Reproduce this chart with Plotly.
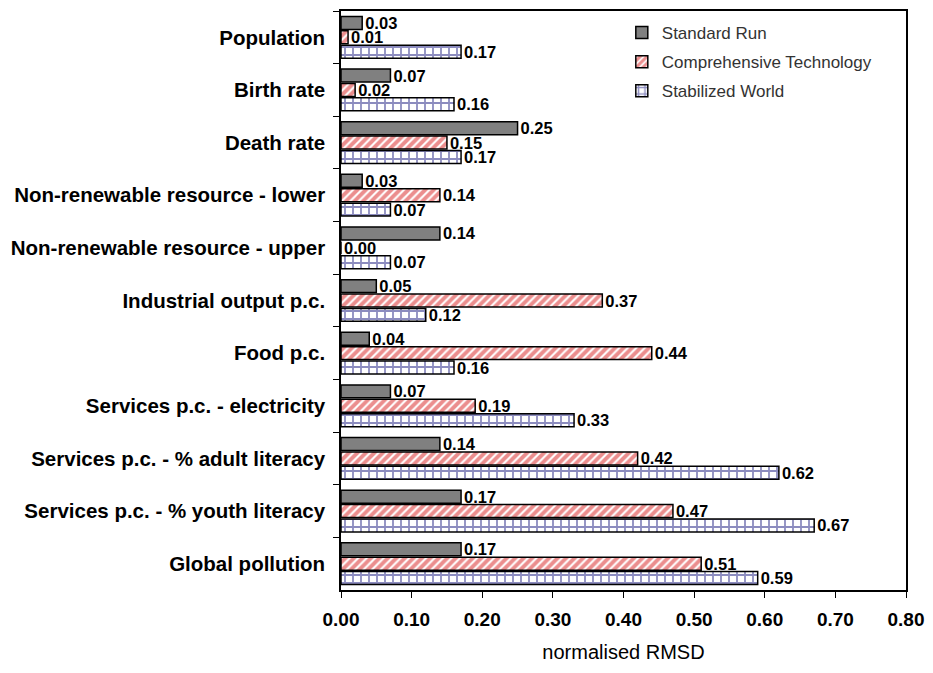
import plotly.graph_objects as go

categories = [
    "Population",
    "Birth rate",
    "Death rate",
    "Non-renewable resource - lower",
    "Non-renewable resource - upper",
    "Industrial output p.c.",
    "Food p.c.",
    "Services p.c. - electricity",
    "Services p.c. - % adult literacy",
    "Services p.c. - % youth literacy",
    "Global pollution",
]
standard_run = [0.03, 0.07, 0.25, 0.03, 0.14, 0.05, 0.04, 0.07, 0.14, 0.17, 0.17]
comprehensive_tech = [0.01, 0.02, 0.15, 0.14, 0.00, 0.37, 0.44, 0.19, 0.42, 0.47, 0.51]
stabilized_world = [0.17, 0.16, 0.17, 0.07, 0.07, 0.12, 0.16, 0.33, 0.62, 0.67, 0.59]
x_ticks = [0.0, 0.1, 0.2, 0.3, 0.4, 0.5, 0.6, 0.7, 0.8]

FONT = "Liberation Sans, Arial, sans-serif"

fig = go.Figure()

series = [
    ("Standard Run", standard_run, dict(color="#808080", line=dict(color="black", width=1.5))),
    ("Comprehensive Technology", comprehensive_tech,
     dict(color="white", line=dict(color="black", width=1.5),
          pattern=dict(shape="/", fgcolor="#d81e1e", bgcolor="white", size=6, solidity=0.65))),
    ("Stabilized World", stabilized_world,
     dict(color="white", line=dict(color="black", width=1.5),
          pattern=dict(shape="+", fgcolor="#1a1a80", bgcolor="white", size=8, solidity=0.4))),
]

for name, vals, marker in series:
    fig.add_trace(go.Bar(
        name=name,
        legendgroup=name,
        y=categories,
        x=vals,
        orientation="h",
        marker=marker,
        text=[f"{v:.2f}" for v in vals],
        textposition="outside",
        constraintext="none",
        cliponaxis=False,
        textfont=dict(family=FONT, size=16.5, color="black", weight="bold"),
    ))

fig.update_layout(
    width=925,
    height=655,
    barmode="group",
    bargap=0.18,
    bargroupgap=0.1,
    plot_bgcolor="white",
    paper_bgcolor="white",
    margin=dict(l=333, r=27, t=1, b=70),
    font=dict(family=FONT, color="black"),
    legend=dict(
        x=0.497, y=0.993, xanchor="left", yanchor="top",
        font=dict(family=FONT, size=17, color="#333333"),
        bgcolor="rgba(0,0,0,0)",
        traceorder="grouped",
        itemwidth=30,
        tracegroupgap=4,
    ),
    xaxis=dict(
        range=[0, 0.8],
        tickvals=x_ticks,
        ticktext=[f"{t:.2f}" for t in x_ticks],
        tickfont=dict(family=FONT, size=19, color="black", weight="bold"),
        ticks="outside",
        ticklen=6,
        tickcolor="black",
        ticklabelstandoff=5,
        ticklabeloverflow="allow",
        showline=True,
        linecolor="black",
        linewidth=1.5,
        mirror=True,
        showgrid=False,
        zeroline=False,
        title=dict(text="normalised RMSD", font=dict(family=FONT, size=20, color="black"), standoff=18),
    ),
    yaxis=dict(
        autorange="reversed",
        tickfont=dict(family=FONT, size=20.5, color="black", weight="bold"),
        ticks="outside",
        ticklen=6,
        tickcolor="black",
        tickson="boundaries",
        showline=True,
        linecolor="black",
        linewidth=1.5,
        mirror=True,
        showgrid=False,
        ticklabelstandoff=10,
    ),
)

fig.write_html("out.html")
